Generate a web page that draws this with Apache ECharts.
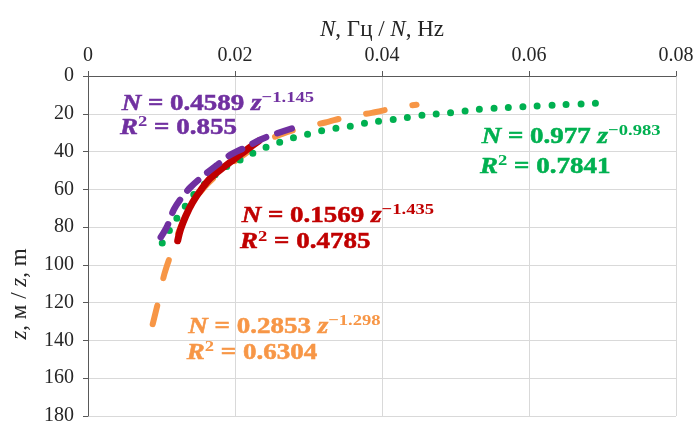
<!DOCTYPE html>
<html>
<head>
<meta charset="utf-8">
<script src="https://cdn.jsdelivr.net/npm/echarts@6/dist/echarts.min.js"></script>
<style>html,body{margin:0;padding:0;background:#fff}#c{width:697px;height:426px}</style>
</head>
<body>
<div id="c"></div>
<script>
// ---- data (N in Hz, z in m) ----
const xTicks = [0, 0.02, 0.04, 0.06, 0.08];
const yTicks = [0, 20, 40, 60, 80, 100, 120, 140, 160, 180];

const greenN = [0.0101, 0.0108, 0.0117, 0.0131, 0.0142, 0.0163, 0.0185, 0.0208, 0.0226, 0.0244, 0.0267, 0.0285, 0.0305, 0.0323, 0.0343, 0.0362, 0.0382, 0.0417, 0.0457, 0.0492, 0.0531, 0.0565, 0.0606, 0.0641, 0.0681, 0.0694];
const greenZ = [88.4, 83.7, 77.5, 69.7, 63.6, 55.7, 48.7, 44.3, 40.5, 37.4, 34.2, 32.1, 30.3, 28.6, 27.4, 26.3, 24.6, 23.0, 20.7, 19.5, 17.7, 16.8, 16.0, 15.3, 14.7, 14.4];

const purpleN = [0.0099, 0.0108, 0.0117, 0.0129, 0.0140, 0.0156, 0.0176, 0.0194, 0.0212, 0.0235, 0.0253, 0.0278];
const purpleZ = [85.4, 79.3, 70.6, 63.6, 58.7, 53.1, 47.0, 41.7, 38.2, 33.6, 30.9, 27.7];

const redN = [0.0122, 0.0126, 0.0133, 0.0142, 0.0154, 0.0167, 0.0183, 0.0199, 0.0217, 0.0233];
const redZ = [87.2, 81.1, 74.1, 67.1, 60.1, 53.9, 48.7, 44.0, 38.7, 34.2];

const orangeN = [0.0088, 0.0096, 0.0104, 0.0115, 0.0126, 0.0140, 0.0158, 0.0181, 0.0208, 0.0235, 0.0266, 0.0294, 0.0323, 0.0353, 0.0386, 0.0416, 0.0447];
const orangeZ = [131.4, 118.7, 104.7, 91.9, 80.0, 69.0, 59.0, 50.6, 42.8, 35.7, 30.4, 27.2, 24.6, 21.6, 19.5, 17.1, 15.2];

const eqPurple = ['0.4589', '−1.145', '0.855'];
const eqGreen  = ['0.977', '−0.983', '0.7841'];
const eqRed    = ['0.1569', '−1.435', '0.4785'];
const eqOrange = ['0.2853', '−1.298', '0.6304'];

// ---- chart ----
const zip = (a, b) => a.map((v, i) => [v, b[i]]);
const SERIF = '"Liberation Serif", "Times New Roman", serif';
const C = { purple: '#7030A0', green: '#00B050', red: '#C00000', orange: '#F79646' };

function eqRich(color) {
  const base = { fontFamily: SERIF, fontWeight: 'bold', fill: color, fontSize: 22.5, lineHeight: 28, verticalAlign: 'middle', stroke: color, lineWidth: 0.5 };
  return {
    i: Object.assign({}, base, { fontStyle: 'italic' }),
    n: Object.assign({}, base),
    s: { fontFamily: SERIF, fontWeight: 'bold', fill: color, fontSize: 15.5, lineHeight: 14, verticalAlign: 'top' },
    s2: { fontFamily: SERIF, fontWeight: 'bold', fill: color, fontSize: 15.5, lineHeight: 18, verticalAlign: 'top' }
  };
}
function eqText(eq, color, x1, cy1, x2, cy2) {
  const rich = eqRich(color);
  return [
    { type: 'text', x: x1, y: cy1 - 14, scaleX: 1.2, silent: true, z: 100,
      style: { text: '{i|N}{n| = ' + eq[0] + ' }{i|z}{s|' + eq[1] + '}', rich: rich, fill: color, verticalAlign: 'top', align: 'left' } },
    { type: 'text', x: x2, y: cy2 - 14, scaleX: 1.2, silent: true, z: 100,
      style: { text: '{i|R}{s2|2}{n| = ' + eq[2] + '}', rich: rich, fill: color, verticalAlign: 'top', align: 'left' } }
  ];
}

const chart = echarts.init(document.getElementById('c'), null, { renderer: 'canvas' });
const axisTextRich = {
  i: { fontFamily: SERIF, fontStyle: 'italic', fontSize: 23, color: '#262626' },
  r: { fontFamily: SERIF, fontSize: 23, color: '#262626' }
};
chart.setOption({
  animation: false,
  backgroundColor: '#fff',
  grid: { left: 87, right: 21, top: 76, bottom: 7, containLabel: false },
  xAxis: {
    type: 'value', position: 'top', min: xTicks[0], max: xTicks[xTicks.length - 1], interval: xTicks[1] - xTicks[0],
    name: '{i|N}{r|, Гц / }{i|N}{r|, Hz}', nameLocation: 'middle', nameGap: 34,
    nameTextStyle: { rich: axisTextRich },
    axisLine: { show: true, lineStyle: { color: '#595959', width: 1 } },
    axisTick: { show: true, length: 5, lineStyle: { color: '#595959' } },
    axisLabel: { margin: 10, fontFamily: SERIF, fontSize: 20, color: '#262626', formatter: v => v === 0 ? '0' : v.toFixed(2) },
    splitLine: { show: true, lineStyle: { color: '#D9D9D9', width: 1 } }
  },
  yAxis: {
    type: 'value', inverse: true, min: yTicks[0], max: yTicks[yTicks.length - 1], interval: yTicks[1] - yTicks[0],
    name: '{i|z}{r|, м / }{i|z}{r|, m}', nameLocation: 'middle', nameGap: 57, nameRotate: 90,
    nameTextStyle: { rich: axisTextRich, padding: [0, 96, 0, 0] },
    axisLine: { show: true, lineStyle: { color: '#595959', width: 1 } },
    axisTick: { show: true, length: 5, lineStyle: { color: '#595959' } },
    axisLabel: { margin: 14, fontFamily: SERIF, fontSize: 20, color: '#262626' },
    splitLine: { show: true, lineStyle: { color: '#D9D9D9', width: 1 } }
  },
  series: [
    { name: 'orange', type: 'line', data: zip(orangeN, orangeZ), showSymbol: false, smooth: 0.3, silent: true, z: 2,
      lineStyle: { color: C.orange, width: 6, type: [19, 28], dashOffset: 0, cap: 'round' } },
    { name: 'green', type: 'line', data: zip(greenN, greenZ), showSymbol: false, smooth: 0.3, silent: true, z: 3,
      lineStyle: { color: C.green, width: 7, type: [0, 14.5], cap: 'round' } },
    { name: 'red', type: 'line', data: zip(redN, redZ), showSymbol: false, smooth: 0.3, silent: true, z: 4,
      lineStyle: { color: C.red, width: 7, type: 'solid', cap: 'round' } },
    { name: 'purple', type: 'line', data: zip(purpleN, purpleZ), showSymbol: false, smooth: 0.3, silent: true, z: 5,
      lineStyle: { color: C.purple, width: 6.5, type: [15, 12], cap: 'round' } }
  ],
  graphic: [].concat(
    eqText(eqPurple, C.purple, 121.7, 104.2, 120, 128),
    eqText(eqRed, C.red, 241.7, 215.8, 240, 242.5),
    eqText(eqOrange, C.orange, 188.3, 327.2, 186.7, 352.8),
    eqText(eqGreen, C.green, 481.7, 136.7, 480, 166.7)
  )
});
</script>
</body>
</html>
